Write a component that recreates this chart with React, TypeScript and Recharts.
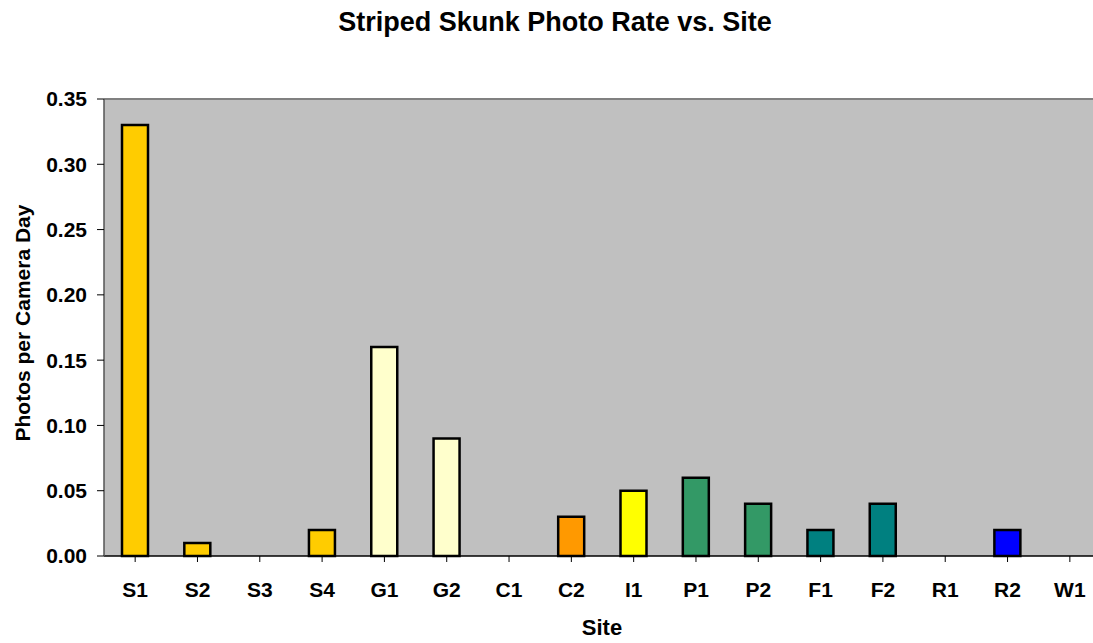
import React from 'react';
import { BarChart, Bar, XAxis, YAxis, CartesianGrid, Cell, ReferenceLine } from 'recharts';

const sites = ['S1', 'S2', 'S3', 'S4', 'G1', 'G2', 'C1', 'C2', 'I1', 'P1', 'P2', 'F1', 'F2', 'R1', 'R2', 'W1'];
const rates = [0.33, 0.01, 0, 0.02, 0.16, 0.09, 0, 0.03, 0.05, 0.06, 0.04, 0.02, 0.04, 0, 0.02, 0];
const colors = ['#FFCC00', '#FFCC00', '#FFCC00', '#FFCC00', '#FFFFCC', '#FFFFCC', '#FF9900', '#FF9900', '#FFFF00', '#339966', '#339966', '#008080', '#008080', '#0000FF', '#0000FF', '#0000FF'];
const yTicks = [0, 0.05, 0.1, 0.15, 0.2, 0.25, 0.3, 0.35];

const data = sites.map((s, i) => ({ site: s, rate: rates[i] }));

const FONT = 'Arial, "Liberation Sans", sans-serif';

export default function App() {
  return (
    <div style={{ position: 'absolute', left: 0, top: 0, width: 1093, height: 643, overflow: 'hidden', background: '#fff', fontFamily: FONT }}>
      <BarChart width={1110} height={643} data={data} margin={{ top: 99, right: 9, left: 0, bottom: 0 }} barSize={26}>
        <CartesianGrid fill="#C0C0C0" horizontal={false} vertical={false} />
        <ReferenceLine y={0.35} stroke="#808080" strokeWidth={2} />
        <XAxis
          dataKey="site"
          interval={0}
          height={87}
          tickSize={6}
          tickMargin={20}
          axisLine={{ stroke: '#000', strokeWidth: 1.5 }}
          tickLine={{ stroke: '#000' }}
          tick={{ fill: '#000', fontSize: 21, fontWeight: 'bold', fontFamily: FONT }}
        />
        <YAxis
          width={104}
          domain={[0, 0.35]}
          ticks={yTicks}
          tickFormatter={(v: number) => v.toFixed(2)}
          tickSize={7}
          tickMargin={10}
          axisLine={{ stroke: '#555', strokeWidth: 1.5 }}
          tickLine={{ stroke: '#000' }}
          tick={{ fill: '#000', fontSize: 21, fontWeight: 'bold', fontFamily: FONT }}
        />
        <Bar dataKey="rate" stroke="#000" strokeWidth={2.5} isAnimationActive={false}>
          {data.map((d, i) => (
            <Cell key={d.site} fill={colors[i]} />
          ))}
        </Bar>
      </BarChart>
      <div style={{ position: 'absolute', left: 555, top: 22, transform: 'translate(-50%, -50%)', fontSize: 27, fontWeight: 'bold', whiteSpace: 'nowrap', lineHeight: 1 }}>
        Striped Skunk Photo Rate vs. Site
      </div>
      <div style={{ position: 'absolute', left: 602, top: 628, transform: 'translate(-50%, -50%)', fontSize: 22, fontWeight: 'bold', whiteSpace: 'nowrap', lineHeight: 1 }}>
        Site
      </div>
      <div style={{ position: 'absolute', left: 22, top: 323, transform: 'translate(-50%, -50%) rotate(-90deg)', fontSize: 21, fontWeight: 'bold', whiteSpace: 'nowrap', lineHeight: 1 }}>
        Photos per Camera Day
      </div>
    </div>
  );
}
